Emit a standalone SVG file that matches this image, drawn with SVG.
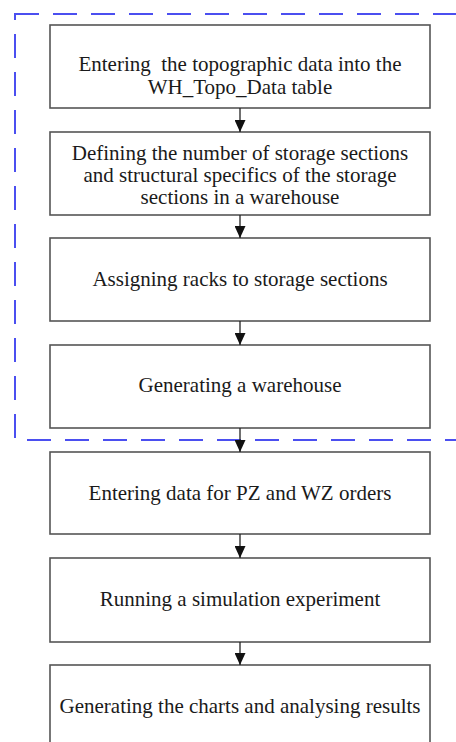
<svg xmlns="http://www.w3.org/2000/svg" width="456" height="742" viewBox="0 0 456 742">
<style>
.box{fill:#fff;stroke:#555;stroke-width:1.6}
.t{font-family:"Liberation Serif","Times New Roman",serif;font-size:21px;fill:#1a1a1a;text-anchor:middle}
.c{stroke:#222;stroke-width:1.3;fill:none}
.dash{fill:none;stroke:#4b4ff0;stroke-width:2;stroke-dasharray:24 14}
</style>
<defs>
<marker id="ah" viewBox="0 0 12 11" refX="12" refY="5.5" markerWidth="12" markerHeight="11" markerUnits="userSpaceOnUse" orient="auto">
<path d="M0,0 L12,5.5 L0,11 z" fill="#111"/>
</marker>
</defs>
<rect id="frame" class="dash" x="15" y="14" width="470" height="426"/>
<g id="n1"><rect class="box" x="50" y="25" width="380" height="83"/>
<text class="t" x="240" y="71" xml:space="preserve">Entering  the topographic data into the</text>
<text class="t" x="240" y="94">WH_Topo_Data table</text></g>
<g id="n2"><rect class="box" x="50" y="132" width="380" height="83"/>
<text class="t" x="240" y="160">Defining the number of storage sections</text>
<text class="t" x="240" y="182">and structural specifics of the storage</text>
<text class="t" x="240" y="204">sections in a warehouse</text></g>
<g id="n3"><rect class="box" x="50" y="238" width="380" height="83"/>
<text class="t" x="240" y="286">Assigning racks to storage sections</text></g>
<g id="n4"><rect class="box" x="50" y="345" width="380" height="83"/>
<text class="t" x="240" y="392">Generating a warehouse</text></g>
<g id="n5"><rect class="box" x="50" y="452" width="380" height="82"/>
<text class="t" x="240" y="500">Entering data for PZ and WZ orders</text></g>
<g id="n6"><rect class="box" x="50" y="558" width="380" height="84"/>
<text class="t" x="240" y="606">Running a simulation experiment</text></g>
<g id="n7"><rect class="box" x="50" y="665" width="380" height="84"/>
<text class="t" x="240" y="713">Generating the charts and analysing results</text></g>
<g id="connectors">
<line class="c" x1="240" y1="108" x2="240" y2="132" marker-end="url(#ah)"/>
<line class="c" x1="240" y1="215" x2="240" y2="238" marker-end="url(#ah)"/>
<line class="c" x1="240" y1="321" x2="240" y2="345" marker-end="url(#ah)"/>
<line class="c" x1="240" y1="428" x2="240" y2="452" marker-end="url(#ah)"/>
<line class="c" x1="240" y1="534" x2="240" y2="558" marker-end="url(#ah)"/>
<line class="c" x1="240" y1="642" x2="240" y2="665" marker-end="url(#ah)"/>
</g>
</svg>
